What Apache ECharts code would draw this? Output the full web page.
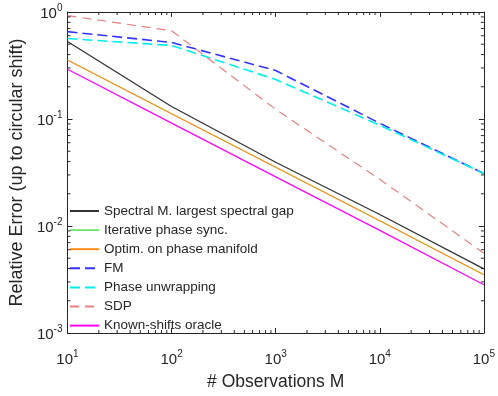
<!DOCTYPE html>
<html>
<head>
<meta charset="utf-8">
<script src="https://cdn.jsdelivr.net/npm/echarts@6/dist/echarts.min.js"></script>
<style>html,body{margin:0;padding:0;background:#fff;}#c{width:498px;height:396px;}</style>
</head>
<body>
<div id="c"></div>
<script>
// Data
const observationsM = [10, 100, 1000, 10000, 100000];
const spectralGap   = [0.53, 0.131, 0.0394, 0.0128, 0.00397];
const iterativeSync = [0.356, 0.112, 0.0354, 0.0112, 0.0035];
const optimManifold = [0.356, 0.112, 0.0354, 0.0112, 0.0035];
const fmErr         = [0.655, 0.519, 0.284, 0.0912, 0.031];
const phaseUnwrap   = [0.565, 0.487, 0.234, 0.0875, 0.031];
const sdpErr        = [0.925, 0.668, 0.123, 0.0273, 0.00557];
const oracleErr     = [0.292, 0.0915, 0.0288, 0.0091, 0.00283];
const seriesNames = ['Spectral M. largest spectral gap', 'Iterative phase sync.', 'Optim. on phase manifold',
  'FM', 'Phase unwrapping', 'SDP', 'Known-shifts oracle'];
const xMin = 10, xMax = 100000, yMin = 0.001, yMax = 1;

const FONT = 'Liberation Sans, Arial, Helvetica, sans-serif';
const AX = '#262626';

function pairs(ys) { return observationsM.map((m, i) => [m, ys[i]]); }

function mk(name, ys, color, width, type) {
  return {
    name: name, type: 'line', data: pairs(ys), symbol: 'none', showSymbol: false,
    lineStyle: { color: color, width: width, type: type || 'solid' },
    itemStyle: { color: color }, animation: false, z: 3
  };
}

// minor tick positions (2..9 x 10^k) on all four sides
const minorTickData = [];
for (let k = 1; k <= 4; k++) for (let m = 2; m <= 9; m++) {
  const v = m * Math.pow(10, k);
  minorTickData.push([v, yMin, 0]); minorTickData.push([v, yMax, 1]);
}
for (let k = -3; k <= -1; k++) for (let m = 2; m <= 9; m++) {
  const v = m * Math.pow(10, k);
  minorTickData.push([xMin, v, 2]); minorTickData.push([xMax, v, 3]);
}

function sup(v) {
  const e = Math.round(Math.log10(v));
  return '{b|10}{s|' + e + '}';
}
const labelRich = {
  b: { fontSize: 15, fontFamily: FONT, color: AX, lineHeight: 18, verticalAlign: 'bottom' },
  s: { fontSize: 10, fontFamily: FONT, color: AX, lineHeight: 18, verticalAlign: 'top' }
};

function xAx(pos, show) {
  return {
    type: 'log', logBase: 10, min: xMin, max: xMax, interval: 1, position: pos,
    axisLine: { show: true, onZero: false, lineStyle: { color: AX, width: 1 } },
    axisTick: { show: true, inside: true, length: 5, lineStyle: { color: AX } },
    minorTick: { show: false }, splitLine: { show: false },
    axisLabel: { show: show, formatter: sup, rich: labelRich, margin: 16 },
    name: show ? '# Observations M' : '', nameLocation: 'middle', nameGap: 40,
    nameTextStyle: { fontSize: 17.5, fontFamily: FONT, color: AX }
  };
}
function yAx(pos, show) {
  return {
    type: 'log', logBase: 10, min: yMin, max: yMax, interval: 1, position: pos,
    axisLine: { show: true, onZero: false, lineStyle: { color: AX, width: 1 } },
    axisTick: { show: true, inside: true, length: 5, lineStyle: { color: AX } },
    minorTick: { show: false }, splitLine: { show: false },
    axisLabel: { show: show, formatter: sup, rich: labelRich, margin: 5 },
    name: show ? 'Relative Error (up to circular shift)' : '', nameLocation: 'middle', nameGap: 38,
    nameRotate: 90,
    nameTextStyle: { fontSize: 18, fontFamily: FONT, color: AX }
  };
}

const legendData = seriesNames.map((n, i) => i === 1
  ? { name: n, lineStyle: { width: 1.2 } } : { name: n });

const chart = echarts.init(document.getElementById('c'), null, { renderer: 'canvas' });
chart.setOption({
  backgroundColor: '#ffffff',
  animation: false,
  grid: { left: 62, right: 12, top: 12, bottom: 58, containLabel: false },
  xAxis: [xAx('bottom', true), xAx('top', false)],
  yAxis: [yAx('left', true), yAx('right', false)],
  legend: {
    data: legendData, orient: 'vertical', left: 69, top: 204,
    itemWidth: 29, itemHeight: 14, itemGap: 5.1,
    itemStyle: { opacity: 0, borderWidth: 0 },
    textStyle: { fontSize: 13.5, fontFamily: FONT, color: AX, lineHeight: 14 },
    selectedMode: false, borderWidth: 0, padding: 0
  },
  series: [
    mk(seriesNames[0], spectralGap, '#333333', 1.3),
    mk(seriesNames[1], iterativeSync, '#22dd22', 0.6),
    mk(seriesNames[2], optimManifold, '#ff8c1a', 1.3),
    mk(seriesNames[3], fmErr, '#3333ff', 1.6, [10, 5]),
    mk(seriesNames[4], phaseUnwrap, '#00eeee', 1.6, [10, 5]),
    mk(seriesNames[5], sdpErr, '#e88080', 1.2, [9, 6]),
    mk(seriesNames[6], oracleErr, '#ff00ff', 1.2),
    {
      type: 'custom', name: 'minorTicks', silent: true, animation: false, clip: false, z: 5,
      data: minorTickData, encode: { x: 0, y: 1 },
      renderItem: function (params, api) {
        const p = api.coord([api.value(0), api.value(1)]);
        const d = api.value(2), L = 3;
        const dx = d === 2 ? L : (d === 3 ? -L : 0);
        const dy = d === 0 ? -L : (d === 1 ? L : 0);
        return { type: 'line', shape: { x1: p[0], y1: p[1], x2: p[0] + dx, y2: p[1] + dy },
          style: { stroke: AX, lineWidth: 1 } };
      }
    }
  ]
});
</script>
</body>
</html>
